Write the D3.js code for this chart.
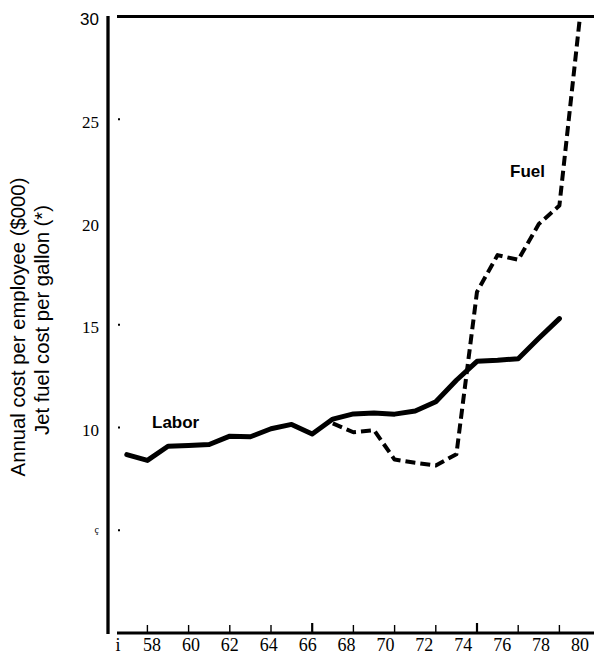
<!DOCTYPE html>
<html>
<head>
<meta charset="utf-8">
<script src="https://cdn.jsdelivr.net/npm/d3@7"></script>
<style>
  html, body { margin: 0; padding: 0; background: #fff; }
  svg { display: block; }
</style>
</head>
<body>
<script>
// ---- data ----
const laborYears = [57,58,59,60,61,62,63,64,65,66,67,68,69,70,71,72,73,74,75,76,77,78];
const laborValues = [8.68,8.40,9.09,9.12,9.17,9.58,9.55,9.94,10.15,9.68,10.41,10.66,10.70,10.65,10.80,11.25,12.30,13.22,13.27,13.35,14.34,15.30];
const fuelYears = [67,68,69,70,71,72,73,74,75,76,77,78,79];
const fuelValues = [10.2,9.77,9.87,8.44,8.28,8.15,8.70,16.60,18.39,18.16,19.90,20.80,30.0];
const xTickYears = [58,60,62,64,66,68,70,72,74,76,78];
const xLabelYears = [56,58,60,62,64,66,68,70,72,74,76,78,80];
const xLabelTexts = ["i","58","60","62","64","66","68","70","72","74","76","78","80"];
const yLabelValues = [30,25,20,15,10,5];
const yLabelTexts = ["30","25","20","15","10","ç"];
const yDotValues = [25,15,10,5];
const yTitleLines = ["Annual cost per employee ($000)", "Jet fuel cost per gallon (*)"];

const W = 594, H = 657;
const svg = d3.select("body").append("svg").attr("width", W).attr("height", H);

// scales
const x = d3.scaleLinear().domain([56, 80]).range([106.2, 600.6]);   // data / tick positions
const xLab = d3.scaleLinear().domain([58, 80]).range([152, 580]);     // printed label positions
const y = d3.scaleLinear().domain([0, 30]).range([633, 16.5]);

// frame lines
svg.append("line").attr("x1", 108).attr("x2", 108).attr("y1", 16).attr("y2", 634)
  .attr("stroke", "#000").attr("stroke-width", 3.3);
svg.append("line").attr("x1", 117).attr("x2", W).attr("y1", y(30)).attr("y2", y(30))
  .attr("stroke", "#000").attr("stroke-width", 3);
svg.append("line").attr("x1", 117).attr("x2", W).attr("y1", y(0)).attr("y2", y(0))
  .attr("stroke", "#000").attr("stroke-width", 3);

// x ticks (inner)
svg.append("g").selectAll("line").data(xTickYears).join("line")
  .attr("x1", d => x(d)).attr("x2", d => x(d))
  .attr("y1", d => (d === 66 || d === 74) ? y(0) - 10 : y(0) - 8)
  .attr("y2", y(0))
  .attr("stroke", "#000")
  .attr("stroke-width", d => (d === 66 || d === 74) ? 2.2 : 1.4);

// x labels
svg.append("g").selectAll("text").data(xLabelYears).join("text")
  .attr("x", d => xLab(d) - (d === 56 ? -5 : 0))
  .attr("y", 651)
  .attr("text-anchor", "middle")
  .attr("font-family", "'Liberation Serif', 'Times New Roman', serif")
  .attr("font-size", 18)
  .attr("fill", "#000")
  .text((d, i) => xLabelTexts[i]);

// y labels
svg.append("g").selectAll("text").data(yLabelValues).join("text")
  .attr("x", 99)
  .attr("y", d => y(d) + (d === 5 ? 3 : 8.5))
  .attr("text-anchor", "end")
  .attr("font-family", d => d === 30 ? "'Liberation Sans', Arial, sans-serif" : "'Liberation Serif', 'Times New Roman', serif")
  .attr("font-size", d => d === 5 ? 10 : 17)
  .attr("fill", "#000")
  .text((d, i) => yLabelTexts[i]);

// y tick dots
svg.append("g").selectAll("rect").data(yDotValues).join("rect")
  .attr("x", 118).attr("y", d => y(d) - 1)
  .attr("width", 2).attr("height", 2)
  .attr("fill", "#000");

// y title (two lines, rotated)
const yt = svg.append("g");
yt.append("text")
  .attr("transform", "translate(25,327) rotate(-90)")
  .attr("text-anchor", "middle")
  .attr("font-family", "'Liberation Sans', Arial, sans-serif")
  .attr("font-size", 20.3)
  .attr("fill", "#000")
  .text(yTitleLines[0]);
yt.append("text")
  .attr("transform", "translate(49,320) rotate(-90)")
  .attr("text-anchor", "middle")
  .attr("font-family", "'Liberation Sans', Arial, sans-serif")
  .attr("font-size", 20.3)
  .attr("fill", "#000")
  .text(yTitleLines[1]);

// lines
const lineGen = d3.line().x(d => x(d[0])).y(d => y(d[1]));
const laborData = laborYears.map((yr, i) => [yr, laborValues[i]]);
const fuelData = fuelYears.map((yr, i) => [yr, fuelValues[i]]);

svg.append("path").datum(fuelData)
  .attr("d", lineGen)
  .attr("fill", "none")
  .attr("stroke", "#000")
  .attr("stroke-width", 4)
  .attr("stroke-dasharray", "10,5")
  .attr("stroke-linejoin", "round");

svg.append("path").datum(laborData)
  .attr("d", lineGen)
  .attr("fill", "none")
  .attr("stroke", "#000")
  .attr("stroke-width", 5)
  .attr("stroke-linejoin", "round")
  .attr("stroke-linecap", "round");

// series labels
svg.append("text").attr("x", 152).attr("y", 428)
  .attr("font-family", "'Liberation Sans', Arial, sans-serif")
  .attr("font-weight", "bold").attr("font-size", 17).attr("fill", "#000")
  .text("Labor");
svg.append("text").attr("x", 510).attr("y", 177)
  .attr("font-family", "'Liberation Sans', Arial, sans-serif")
  .attr("font-weight", "bold").attr("font-size", 17).attr("fill", "#000")
  .text("Fuel");
</script>
</body>
</html>
